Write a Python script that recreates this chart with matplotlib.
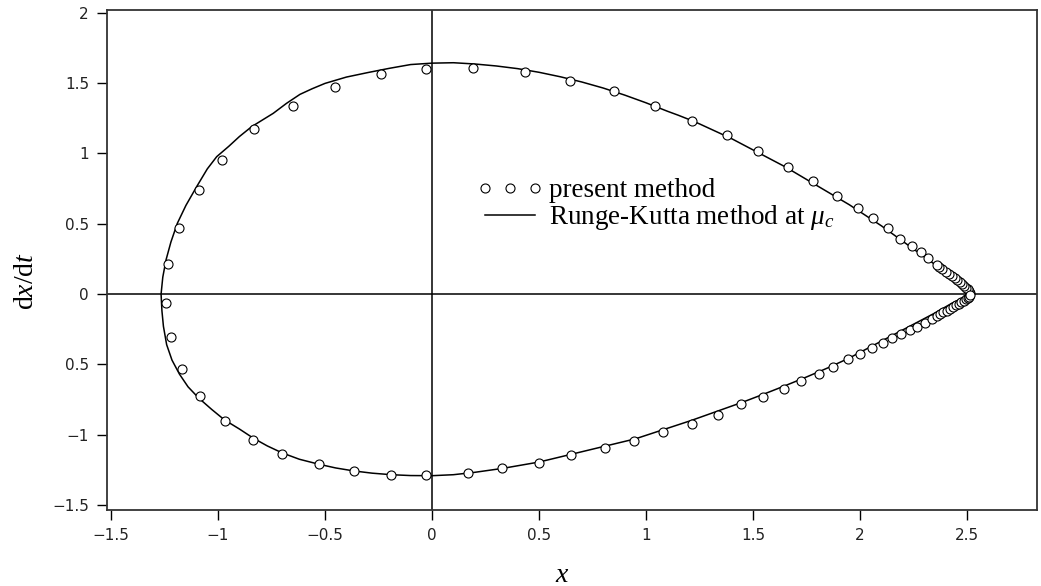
import matplotlib
matplotlib.use("Agg")
import matplotlib.pyplot as plt

plt.rcParams["mathtext.fontset"] = "custom"
plt.rcParams["mathtext.rm"] = "Liberation Serif"
plt.rcParams["mathtext.it"] = "Liberation Serif:italic"

# present method (circles)
pm_x = [2.515, 2.511, 2.505, 2.497, 2.488, 2.478, 2.467, 2.455, 2.443, 2.43, 2.415, 2.40,
        2.385, 2.37, 2.358, 2.319, 2.283, 2.245,
        2.187, 2.132, 2.062, 1.989, 1.894, 1.779, 1.665, 1.525, 1.380, 1.213, 1.043,
        0.849, 0.645, 0.433, 0.192, -0.028, -0.240, -0.453, -0.651, -0.830, -0.981,
        -1.090, -1.182, -1.232, -1.245, -1.218, -1.168, -1.083, -0.969, -0.835, -0.701,
        -0.529, -0.366, -0.190, -0.028, 0.167, 0.325, 0.498, 0.648, 0.808, 0.942, 1.079,
        1.213, 1.335, 1.445, 1.545, 1.646, 1.724, 1.810, 1.872, 1.945, 2.000, 2.054,
        2.106, 2.150, 2.193, 2.234, 2.268, 2.304, 2.335, 2.358, 2.375, 2.39, 2.405, 2.42,
        2.435, 2.449, 2.462, 2.474, 2.485, 2.495, 2.503, 2.51, 2.515]
pm_y = [0.008, 0.02, 0.033, 0.046, 0.06, 0.073, 0.087, 0.10, 0.115, 0.13, 0.145, 0.16,
        0.175, 0.19, 0.206, 0.254, 0.301, 0.344,
        0.391, 0.467, 0.538, 0.614, 0.695, 0.804, 0.906, 1.017, 1.131, 1.233, 1.337,
        1.442, 1.513, 1.576, 1.605, 1.603, 1.565, 1.470, 1.337, 1.171, 0.955,
        0.740, 0.472, 0.213, -0.066, -0.306, -0.531, -0.728, -0.903, -1.036, -1.138,
        -1.211, -1.261, -1.285, -1.285, -1.271, -1.240, -1.199, -1.145, -1.095, -1.046, -0.982,
        -0.925, -0.861, -0.785, -0.735, -0.676, -0.619, -0.569, -0.522, -0.465, -0.427, -0.386,
        -0.351, -0.315, -0.285, -0.256, -0.232, -0.208, -0.180, -0.156, -0.143, -0.13, -0.118, -0.105,
        -0.092, -0.08, -0.069, -0.058, -0.048, -0.038, -0.028, -0.018, -0.008]

# Runge-Kutta method at mu_c (solid line)
rk_x = [2.525, 2.50, 2.47, 2.43, 2.39, 2.35, 2.30, 2.25, 2.20, 2.15, 2.10, 2.05, 2.00, 1.95,
        1.90, 1.85, 1.80, 1.75, 1.70, 1.65, 1.60, 1.55, 1.50, 1.45, 1.40, 1.35, 1.30, 1.25,
        1.20, 1.15, 1.10, 1.05, 1.00, 0.90, 0.80, 0.70, 0.60, 0.50, 0.40, 0.30, 0.20, 0.10,
        0.0, -0.10, -0.20, -0.30, -0.40, -0.50, -0.56, -0.617, -0.68, -0.742, -0.79, -0.843,
        -0.90, -0.95, -1.006, -1.05, -1.10, -1.15, -1.19, -1.22, -1.243, -1.258, -1.266,
        -1.262, -1.255, -1.24, -1.215, -1.18, -1.14, -1.09, -1.03, -0.97, -0.90, -0.835,
        -0.77, -0.70, -0.62, -0.53, -0.45, -0.366, -0.28, -0.19, -0.10, 0.0, 0.10, 0.20,
        0.33, 0.50, 0.65, 0.80, 0.95, 1.08, 1.21, 1.33, 1.45, 1.55, 1.65, 1.75, 1.85, 1.95,
        2.05, 2.15, 2.25, 2.35, 2.43, 2.49, 2.525]
rk_y = [0.0, 0.03, 0.07, 0.12, 0.165, 0.21, 0.265, 0.32, 0.375, 0.43, 0.485, 0.535, 0.585,
        0.635, 0.68, 0.725, 0.77, 0.815, 0.86, 0.905, 0.945, 0.985, 1.025, 1.065, 1.105,
        1.14, 1.175, 1.21, 1.242, 1.272, 1.30, 1.33, 1.36, 1.415, 1.465, 1.508, 1.545,
        1.577, 1.603, 1.622, 1.636, 1.645, 1.642, 1.632, 1.605, 1.575, 1.543, 1.498, 1.46,
        1.42, 1.356, 1.285, 1.24, 1.19, 1.12, 1.05, 0.977, 0.89, 0.763, 0.63, 0.503, 0.37,
        0.242, 0.12, 0.0, -0.12, -0.23, -0.36, -0.47, -0.57, -0.66, -0.74, -0.82, -0.895,
        -0.96, -1.025, -1.08, -1.13, -1.175, -1.21, -1.237, -1.258, -1.274, -1.285, -1.291,
        -1.292, -1.285, -1.268, -1.24, -1.195, -1.14, -1.085, -1.03, -0.965, -0.90, -0.835,
        -0.77, -0.712, -0.652, -0.59, -0.525, -0.455, -0.375, -0.295, -0.215, -0.135, -0.065,
        -0.02, 0.0]

xticks = [-1.5, -1, -0.5, 0, 0.5, 1, 1.5, 2, 2.5]
xlabels = ["\u22121.5", "\u22121", "\u22120.5", "0", "0.5", "1", "1.5", "2", "2.5"]
yticks = [-1.5, -1, -0.5, 0, 0.5, 1, 1.5, 2]
ylabels = ["\u22121.5", "\u22121", "0.5", "0", "0.5", "1", "1.5", "2"]

fig = plt.figure(figsize=(10.41, 5.86), dpi=100)
ax = fig.add_axes([107/1041, 1 - 510/586, 930/1041, 500/586])

ax.axhline(0, color="black", lw=1.1)
ax.axvline(0, color="black", lw=1.1)
ax.plot(rk_x, rk_y, color="black", lw=1.1, label="Runge-Kutta method at $\\mu_c$")
ax.plot(pm_x, pm_y, linestyle="none", marker="o", markersize=6.5, markerfacecolor="white",
        markeredgecolor="black", markeredgewidth=0.8, label="present method")

ax.set_xlim(-1.5187, 2.827)
ax.set_ylim(-1.536, 2.02)
ax.set_xticks(xticks)
ax.set_xticklabels(xlabels)
ax.set_yticks(yticks)
ax.set_yticklabels(ylabels)
ax.tick_params(direction="out", length=7, width=1, labelsize=11, labelcolor="#222", pad=6)
for s in ax.spines.values():
    s.set_linewidth(1.3)
    s.set_color("#333")

ax.set_xlabel("$x$", fontsize=20)
ax.xaxis.set_label_coords(0.489, -0.1)
ax.set_ylabel("$\\mathrm{d}x/\\mathrm{d}t$", fontsize=20)
ax.yaxis.set_label_coords(-0.073, 0.458)

h, l = ax.get_legend_handles_labels()
ax.legend(h[::-1], l[::-1], loc="upper left", bbox_to_anchor=(477/1041, 1 - 178/586),
          bbox_transform=fig.transFigure, frameon=False, numpoints=3, handlelength=2.45,
          handletextpad=0.2, labelspacing=0.0, borderpad=0, borderaxespad=0,
          prop={"family": "Liberation Serif", "size": 19.5})

fig.savefig("out.png", dpi=100)
